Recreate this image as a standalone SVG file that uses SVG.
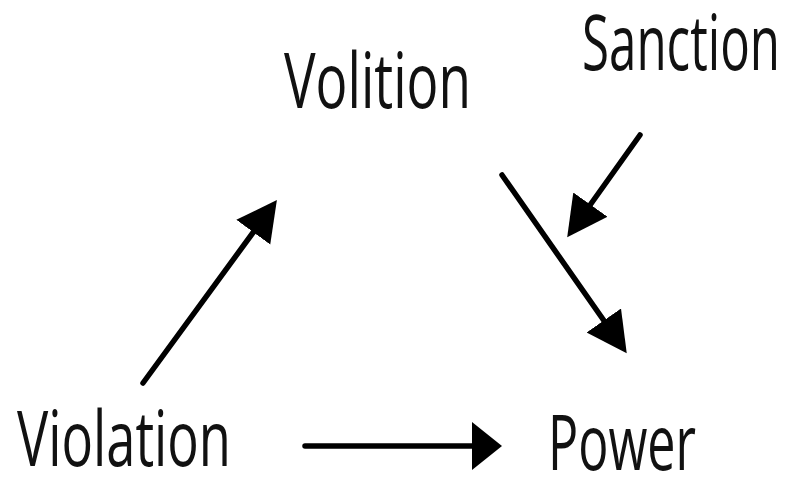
<svg xmlns="http://www.w3.org/2000/svg" width="788" height="477" viewBox="0 0 788 477">
<style>
.lbl{font-family:"Open Sans","Noto Sans","Liberation Sans",sans-serif;font-size:77px;fill:#111111}
.edge{stroke:#000;stroke-width:5.5;fill:none;stroke-linecap:round}
</style>
<defs>
<marker id="ah" markerUnits="userSpaceOnUse" markerWidth="46" markerHeight="46" refX="30" refY="21" orient="auto" viewBox="0 0 46 42">
<path d="M0,0 L40,21 L0,42 z" fill="#000"/>
</marker>
<marker id="ahw" markerUnits="userSpaceOnUse" markerWidth="34" markerHeight="50" refX="20" refY="24" orient="auto" viewBox="0 0 34 50">
<path d="M0,0 L30,24 L0,48 z" fill="#000"/>
</marker>
</defs>
<g id="node-volition"><text class="lbl" x="284" y="108" textLength="187" lengthAdjust="spacingAndGlyphs">Volition</text></g>
<g id="node-sanction"><text class="lbl" x="582" y="70" textLength="198" lengthAdjust="spacingAndGlyphs">Sanction</text></g>
<g id="node-violation"><text class="lbl" x="17" y="466" textLength="214" lengthAdjust="spacingAndGlyphs">Violation</text></g>
<g id="node-power"><text class="lbl" x="548" y="470" textLength="148" lengthAdjust="spacingAndGlyphs">Power</text></g>
<g id="connectors">
<line class="edge" x1="143" y1="383" x2="271" y2="208" marker-end="url(#ah)"/>
<line class="edge" x1="640" y1="135" x2="573" y2="229" marker-end="url(#ah)"/>
<line class="edge" x1="502" y1="175" x2="621" y2="345" marker-end="url(#ah)"/>
<line class="edge" x1="305" y1="446" x2="492" y2="446" marker-end="url(#ahw)"/>
</g>
</svg>
